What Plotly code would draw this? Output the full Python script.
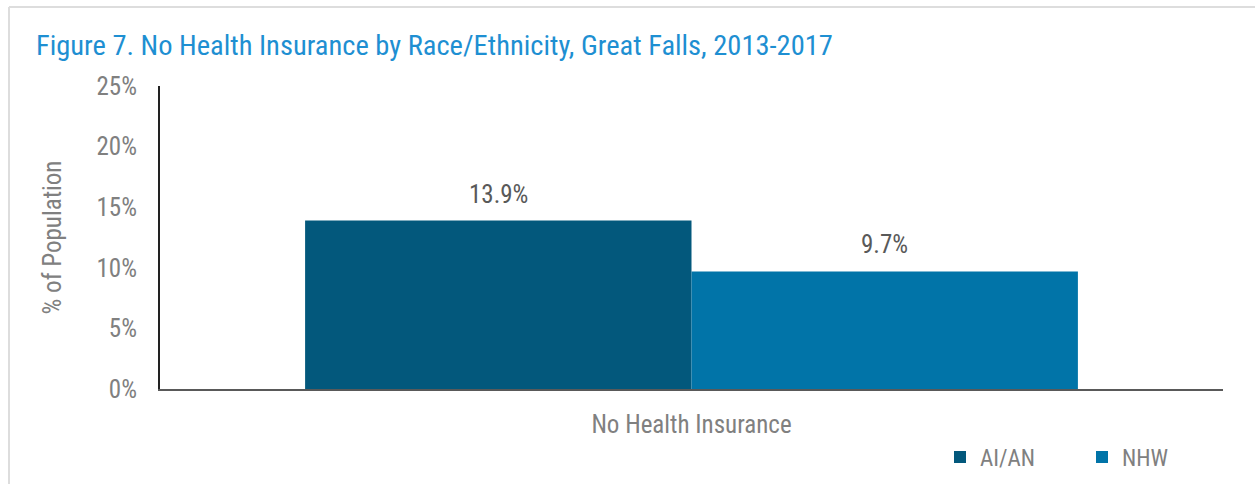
import plotly.graph_objects as go

# Data
categories = ["No Health Insurance"]
series_names = ["AI/AN", "NHW"]
aian_values = [13.9]
nhw_values = [9.7]
y_ticks = [0, 5, 10, 15, 20, 25]
y_tick_labels = ["0%", "5%", "10%", "15%", "20%", "25%"]

colors = {"AI/AN": "#03587C", "NHW": "#0174A8"}
FONT = "Roboto Condensed, Arial Narrow, Liberation Sans, sans-serif"
GRAY = "#808080"
FS = 25

W, H = 1255, 484
L, R, T, B = 160, 32, 86, 95
pw, ph = W - L - R, H - T - B

def px(x):
    return (x - L) / pw

def py(y):
    return (H - B - y) / ph

fig = go.Figure()
for name, vals in zip(series_names, [aian_values, nhw_values]):
    fig.add_trace(go.Bar(
        x=categories, y=vals, name=name,
        marker=dict(color=colors[name], line=dict(width=0)),
        hovertemplate="%{y:.1f}%<extra>" + name + "</extra>",
    ))

# value labels above each bar
group_width = pw * (1 - 0.273)
bar_w = group_width / len(series_names)
for i, vals in enumerate([aian_values, nhw_values]):
    offset = (i - (len(series_names) - 1) / 2) * bar_w
    for cat, v in zip(categories, vals):
        fig.add_annotation(x=cat, y=v, text=f"{v:.1f}%", showarrow=False,
                           xshift=offset, yanchor="bottom", yshift=10,
                           font=dict(family=FONT, size=FS, color="#595959"))

# light frame along the top and left edges
fig.add_shape(type="line", xref="paper", yref="paper",
              x0=px(9), x1=px(W), y0=py(7), y1=py(7),
              line=dict(color="#DDDDDD", width=2))
fig.add_shape(type="line", xref="paper", yref="paper",
              x0=px(9), x1=px(9), y0=py(7), y1=py(H),
              line=dict(color="#DDDDDD", width=2))

fig.update_layout(
    width=W, height=H,
    margin=dict(l=L, r=R, t=T, b=B, autoexpand=False),
    paper_bgcolor="white", plot_bgcolor="white",
    barmode="group", bargap=0.273, bargroupgap=0,
    font=dict(family=FONT, color=GRAY),
    title=dict(text="Figure 7. No Health Insurance by Race/Ethnicity, Great Falls, 2013-2017",
               x=36 / W, xanchor="left", y=1 - 45 / H, yanchor="middle",
               font=dict(family=FONT, size=28.5, color="#1E8FD2")),
    showlegend=True,
    legend=dict(orientation="h", x=px(940), xanchor="left", y=py(457), yanchor="middle",
                font=dict(family=FONT, size=FS - 2, color=GRAY),
                itemwidth=30, traceorder="normal", entrywidth=97),
    xaxis=dict(showgrid=False, showline=True, linecolor="#595959", linewidth=2,
               ticks="", tickfont=dict(family=FONT, size=FS, color=GRAY),
               ticklabelstandoff=12, fixedrange=True),
    yaxis=dict(range=[0, 25], tickvals=y_ticks, ticktext=y_tick_labels,
               showgrid=False, showline=True, linecolor="#222222", linewidth=2,
               ticks="", tickfont=dict(family=FONT, size=FS, color=GRAY),
               ticklabelstandoff=16, fixedrange=True,
               title=dict(text="% of Population", standoff=28,
                          font=dict(family=FONT, size=FS, color=GRAY))),
)

fig.write_html("out.html")
